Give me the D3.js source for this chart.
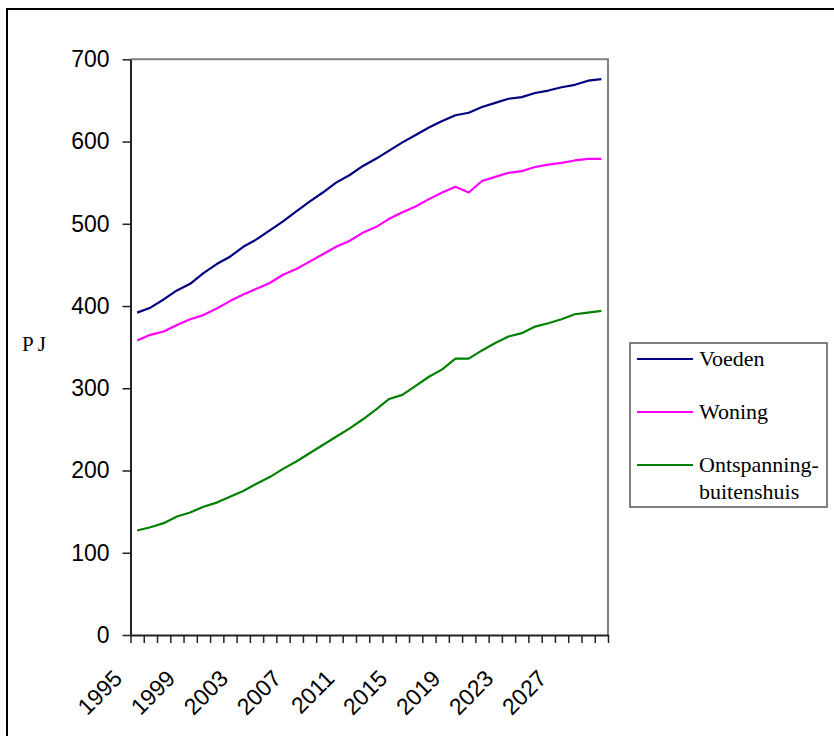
<!DOCTYPE html>
<html>
<head>
<meta charset="utf-8">
<script src="https://cdn.jsdelivr.net/npm/d3@7"></script>
<style>
  html, body { margin: 0; padding: 0; background: #fff; }
  svg { display: block; }
</style>
</head>
<body>
<svg id="chart" width="834" height="736"></svg>
<script>
// Energy use (PJ) per consumption domain, 1995-2030
const years = [1995,1996,1997,1998,1999,2000,2001,2002,2003,2004,2005,2006,
  2007,2008,2009,2010,2011,2012,2013,2014,2015,2016,2017,2018,2019,2020,
  2021,2022,2023,2024,2025,2026,2027,2028,2029,2030];

const voeden = [392,398,408,419,427,440,451,460,472,481,492,503,515,527,538,
  550,559,570,579,589,599,608,617,625,632,635,642,647,652,654,659,662,666,669,674,676];

const woning = [358,365,369,377,384,389,397,406,414,421,428,438,445,454,463,
  472,479,489,496,506,514,521,530,538,545,538,552,557,562,564,569,572,574,577,579,579];

const ontspanning = [127,131,136,144,149,156,161,168,175,184,192,202,211,221,
  231,241,251,262,274,287,292,303,314,323,336,336,346,355,363,367,375,379,384,390,392,394];

const yTicks = [0,100,200,300,400,500,600,700];
const xTickLabels = ["1995","1999","2003","2007","2011","2015","2019","2023","2027"];

const seriesNames = ["Voeden", "Woning", "Ontspanning-buitenshuis"];
const seriesColors = ["#000080", "#ff00ff", "#008000"];
const seriesValues = [voeden, woning, ontspanning];

const svg = d3.select("#chart");

// outer frame
svg.append("rect")
  .attr("x", 7).attr("y", 9)
  .attr("width", 840).attr("height", 740)
  .attr("fill", "none").attr("stroke", "#000").attr("stroke-width", 2);

const plot = { left: 130.5, right: 608, top: 59.3, bottom: 635 };

const x = d3.scaleBand().domain(years).range([plot.left, plot.right]).padding(0);
const xEdge = d3.scaleLinear().domain([0, years.length]).range([plot.left, plot.right]);
const y = d3.scaleLinear().domain([0, 700]).range([plot.bottom, plot.top]);

// plot area border (top and right)
svg.append("path")
  .attr("d", `M${plot.left},${plot.top}H${plot.right}V${plot.bottom}`)
  .attr("fill", "none").attr("stroke", "#808080").attr("stroke-width", 2);

// y axis
const yAxis = svg.append("g")
  .attr("transform", `translate(${plot.left},0)`)
  .call(d3.axisLeft(y).tickValues(yTicks).tickSize(8).tickSizeOuter(0).tickPadding(13));
yAxis.select(".domain").attr("stroke", "#222").attr("stroke-width", 2);
yAxis.selectAll(".tick line").attr("stroke", "#222").attr("stroke-width", 1.5);
yAxis.selectAll(".tick text")
  .attr("font-family", "'Liberation Sans', Arial, sans-serif")
  .attr("font-size", 23).attr("fill", "#000");

// x axis with tick marks between categories
const xAxis = svg.append("g")
  .attr("transform", `translate(0,${plot.bottom})`)
  .call(d3.axisBottom(xEdge).tickValues(d3.range(years.length + 1))
    .tickFormat("").tickSize(8).tickSizeOuter(0));
xAxis.select(".domain").attr("stroke", "#222").attr("stroke-width", 2);
xAxis.selectAll(".tick line").attr("stroke", "#222").attr("stroke-width", 1.5);

// rotated year labels
svg.append("g").selectAll("text")
  .data(xTickLabels)
  .join("text")
  .attr("transform", d => {
    const cx = x(+d) + x.bandwidth() / 2;
    return `translate(${cx - 13.6},680) rotate(-45)`;
  })
  .attr("text-anchor", "end")
  .attr("font-family", "'Liberation Sans', Arial, sans-serif")
  .attr("font-size", 23)
  .attr("fill", "#000")
  .text(d => d);

// y axis unit label
svg.append("text")
  .attr("x", 22).attr("y", 351)
  .attr("font-family", "'Liberation Serif', 'Times New Roman', serif")
  .attr("font-size", 21)
  .attr("letter-spacing", 4)
  .attr("fill", "#000")
  .text("PJ");

// lines
const line = d3.line()
  .x((d, i) => x(years[i]) + x.bandwidth() / 2)
  .y(d => y(d));

svg.append("g").selectAll("path")
  .data(seriesValues)
  .join("path")
  .attr("d", d => line(d))
  .attr("fill", "none")
  .attr("stroke", (d, i) => seriesColors[i])
  .attr("stroke-width", 2.2)
  .attr("stroke-linejoin", "round");

// legend
const legend = svg.append("g");
legend.append("rect")
  .attr("x", 630).attr("y", 343)
  .attr("width", 197).attr("height", 164)
  .attr("fill", "#fff").attr("stroke", "#555").attr("stroke-width", 1.5);

const legendRowY = [359, 412, 465];
const legendText = [["Voeden"], ["Woning"], ["Ontspanning-", "buitenshuis"]];
seriesNames.forEach((name, i) => {
  legend.append("line")
    .attr("x1", 637).attr("x2", 693)
    .attr("y1", legendRowY[i]).attr("y2", legendRowY[i])
    .attr("stroke", seriesColors[i]).attr("stroke-width", 2.2);
  const t = legend.append("text")
    .attr("x", 699).attr("y", legendRowY[i] + 7)
    .attr("font-family", "'Liberation Serif', 'Times New Roman', serif")
    .attr("font-size", 22)
    .attr("fill", "#000");
  legendText[i].forEach((s, j) => {
    t.append("tspan").attr("x", 699).attr("dy", j === 0 ? 0 : 27).text(s);
  });
});
</script>
</body>
</html>
